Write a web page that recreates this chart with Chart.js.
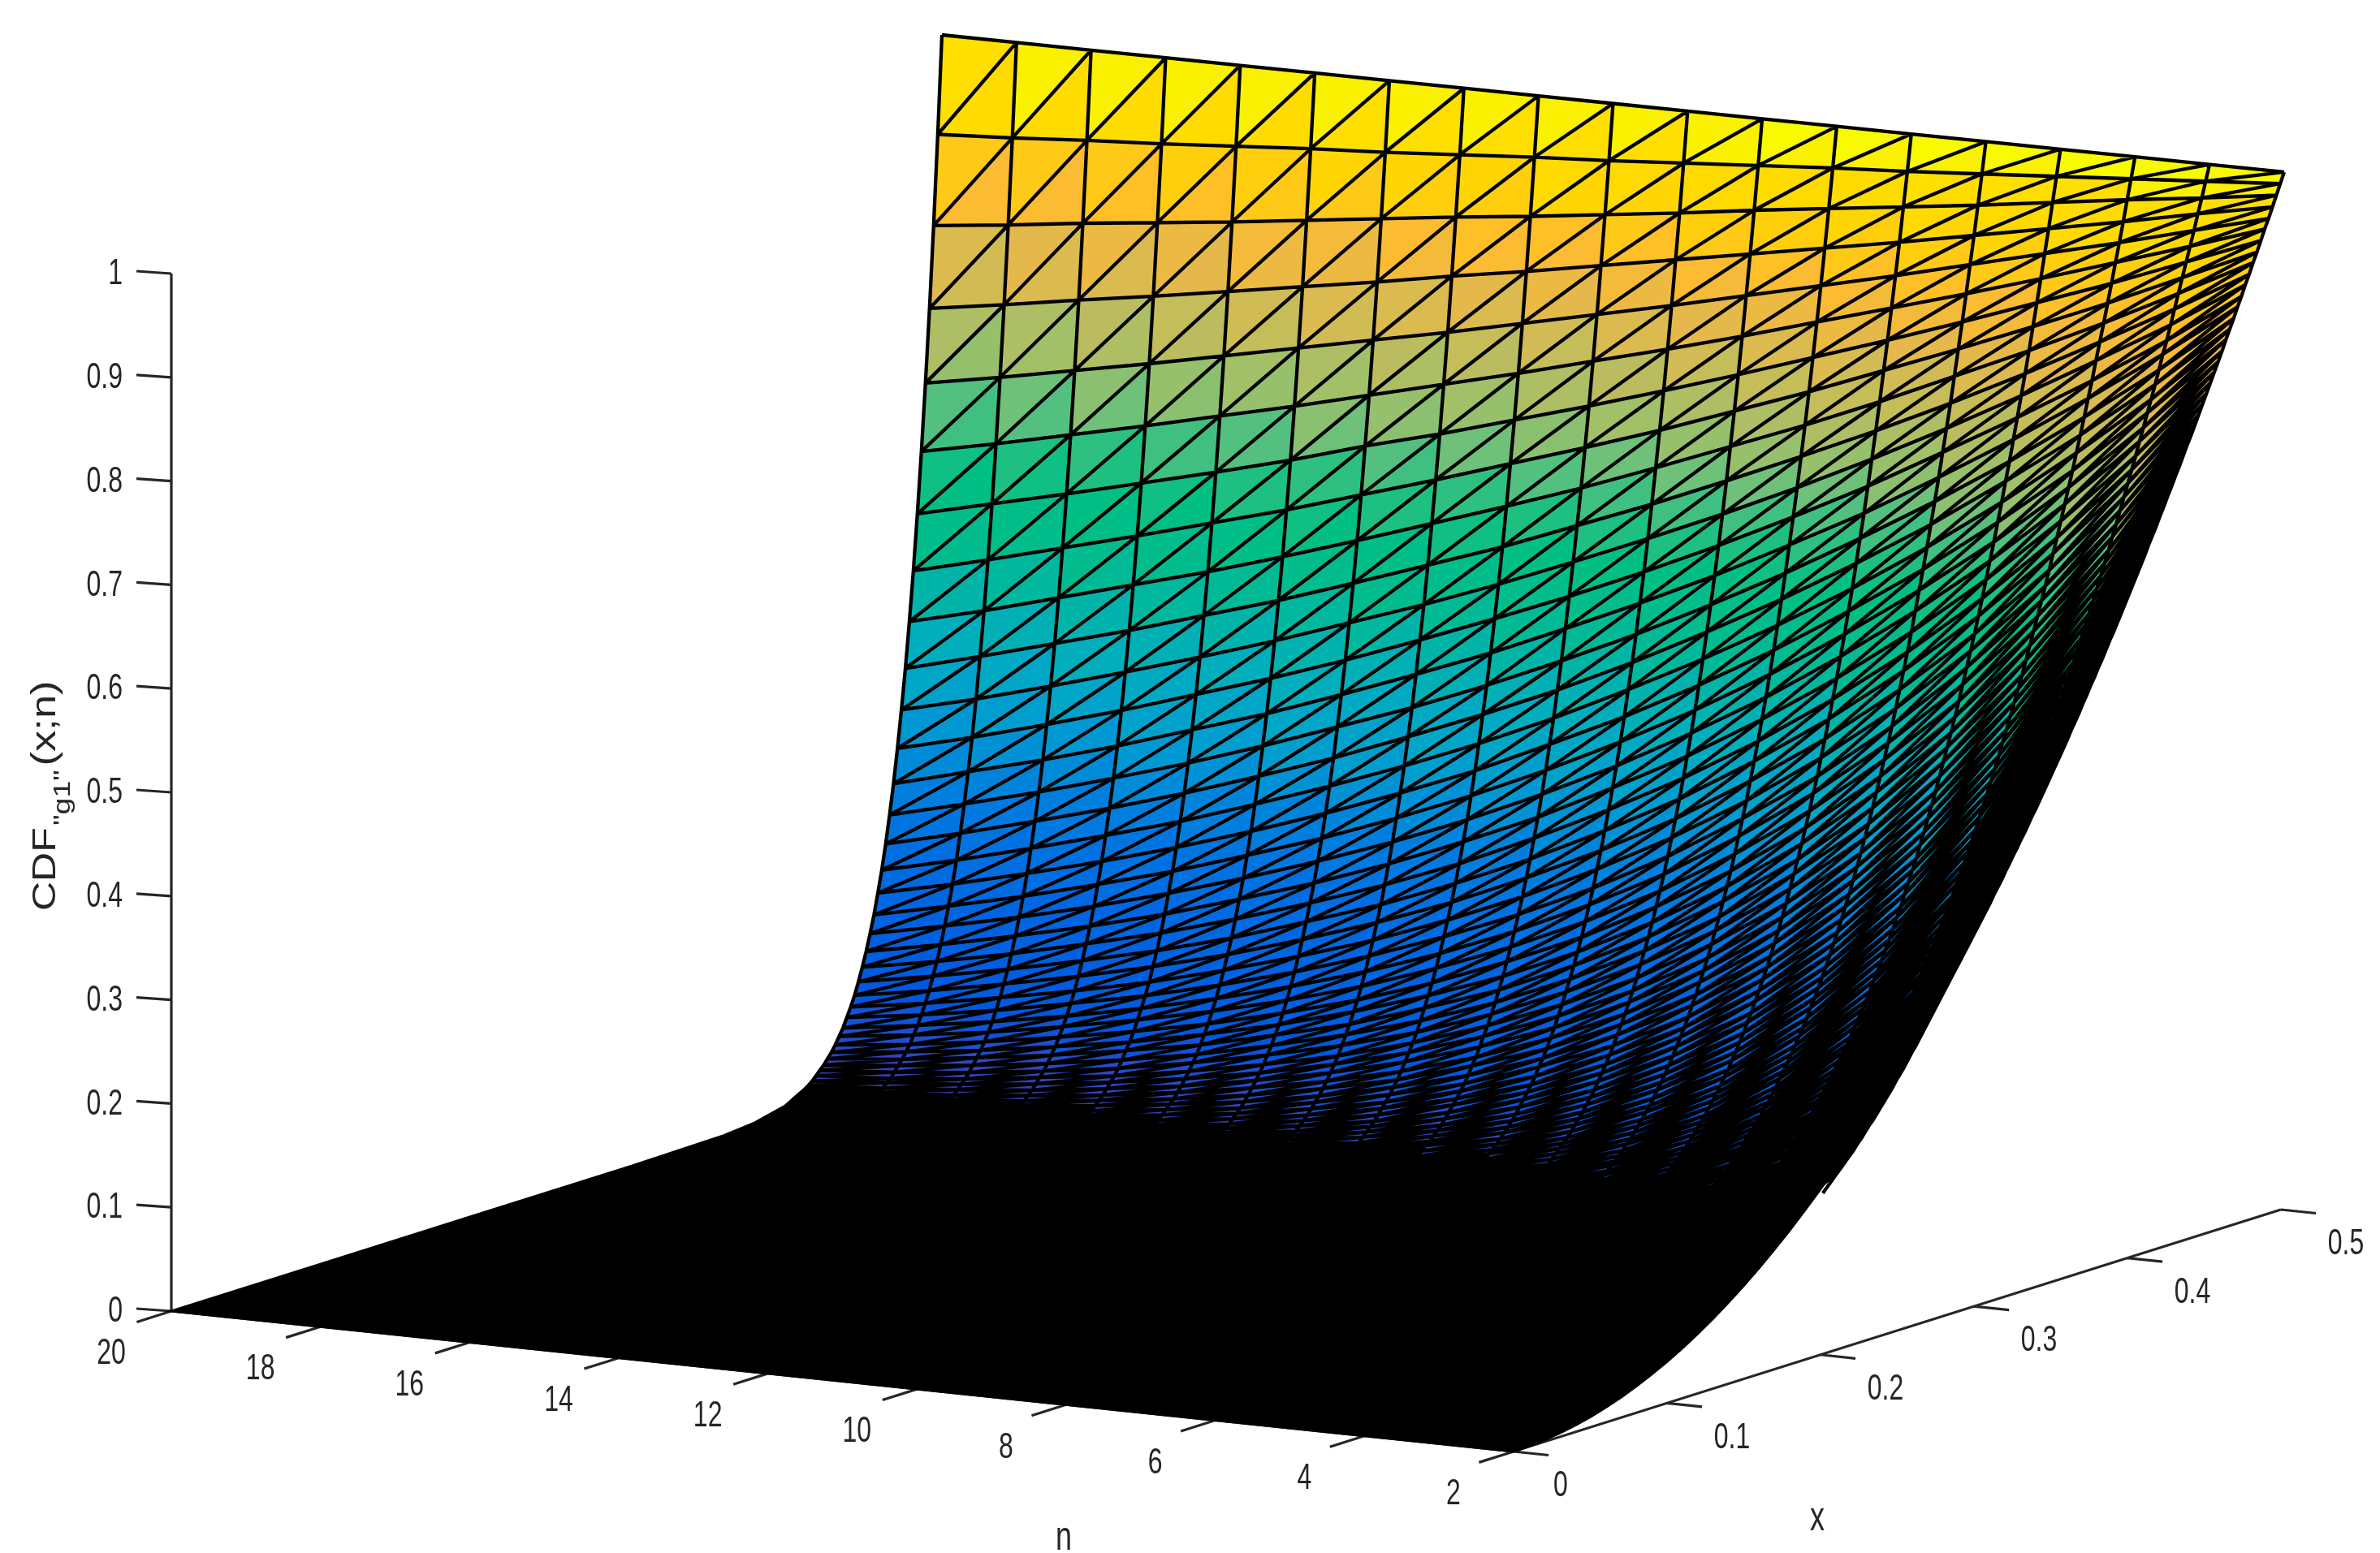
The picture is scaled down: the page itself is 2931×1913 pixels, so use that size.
<!DOCTYPE html>
<html>
<head>
<meta charset="utf-8">
<title>CDF surface</title>
<script src="https://cdn.jsdelivr.net/npm/chart.js@4/dist/chart.umd.min.js"></script>
<style>
  html, body { margin: 0; padding: 0; background: #fff; }
  canvas { display: block; }
</style>
</head>
<body>
<canvas id="surfaceChart" width="2931" height="1913"></canvas>
<script>
// Tick labels
const zTicks = [0, 0.1, 0.2, 0.3, 0.4, 0.5, 0.6, 0.7, 0.8, 0.9, 1];
const nTicks = [20, 18, 16, 14, 12, 10, 8, 6, 4, 2];
const xTicks = [0, 0.1, 0.2, 0.3, 0.4, 0.5];

// Mesh columns, left to right on the picture
const nValues = [20, 19, 18, 17, 16, 15, 14, 13, 12, 11, 10, 9, 8, 7, 6, 5, 4, 3, 2];

// Mesh rows, back to front. Below these the mesh lines overlap into solid black
const xRows = [
  0.5, 0.4975, 0.495, 0.4925, 0.49, 0.4875, 0.485, 0.4825, 0.48, 0.4775,
  0.475, 0.4725, 0.47, 0.4675, 0.465, 0.4625, 0.46, 0.4575, 0.455, 0.4525,
  0.45, 0.4475, 0.445, 0.4425, 0.44, 0.4375, 0.435, 0.4325, 0.43, 0.4275,
  0.425, 0.4225, 0.42, 0.4175, 0.415, 0.4125, 0.41, 0.4075, 0.405, 0.4025,
  0.4, 0.3975, 0.395, 0.3925, 0.39, 0.3875, 0.385, 0.3825, 0.38, 0.3775,
  0.375, 0.3725, 0.37, 0.3675, 0.365, 0.3625, 0.36, 0.3575, 0.355, 0.3525,
  0.35, 0.3475, 0.345, 0.3425, 0.34, 0.3375, 0.335, 0.3325, 0.33, 0.3275,
  0.325, 0.3225, 0.32, 0.3175, 0.315, 0.3125, 0.31, 0.3075, 0.305, 0.3025,
  0.3, 0.2975, 0.295, 0.2925, 0.29, 0.2875, 0.285, 0.2825, 0.28, 0.2775,
  0.275, 0.2725, 0.27, 0.2675, 0.265, 0.2625, 0.26, 0.2575, 0.255, 0.2525, 0.25
];

// Surface height for each n, one value per row of xRows
const zN20 = [1,.905,.818,.739,.668,.603,.544,.490,.442,.398,.359,.323,.290,.261,.234,.210,.189,.169,.152,.136,.122,.109,.097,.087,.078,.069,.062,.055,.049,.044,.039,.035,.031,.027,.024,.021,.019,.017,.015];
const zN19 = [1,.909,.826,.750,.681,.618,.561,.508,.460,.417,.377,.341,.309,.279,.252,.227,.205,.185,.167,.150,.135,.122,.109,.098,.088,.079,.071,.063,.057,.051,.046,.041,.036,.033,.029,.026,.023,.021,.018,.016];
const zN18 = [1,.914,.835,.762,.695,.634,.578,.527,.480,.437,.397,.361,.328,.298,.271,.246,.223,.202,.183,.166,.150,.136,.123,.111,.100,.090,.081,.073,.066,.060,.054,.048,.043,.039,.035,.031,.028,.025,.023,.020,.018];
const zN17 = [1,.918,.843,.773,.709,.650,.596,.546,.500,.457,.418,.382,.349,.319,.291,.266,.242,.221,.201,.183,.167,.152,.138,.125,.114,.103,.094,.085,.077,.070,.063,.057,.052,.047,.042,.038,.034,.031,.028,.025,.023,.020];
const zN16 = [1,.923,.851,.785,.724,.667,.614,.566,.520,.479,.440,.405,.372,.341,.313,.287,.263,.241,.221,.202,.185,.169,.155,.141,.129,.118,.108,.098,.089,.082,.074,.067,.061,.056,.051,.046,.042,.038,.034,.031,.028,.026,.023,.021];
const zN15 = [1,.928,.860,.797,.739,.684,.633,.586,.542,.501,.463,.428,.395,.365,.337,.311,.286,.264,.243,.224,.206,.189,.174,.160,.147,.135,.124,.113,.104,.095,.087,.080,.073,.067,.061,.056,.051,.047,.043,.039,.035,.032,.029,.026,.024,.022];
const zN14 = [1,.932,.869,.809,.754,.702,.654,.608,.565,.525,.488,.453,.421,.391,.362,.336,.311,.288,.267,.247,.229,.212,.196,.181,.167,.154,.142,.131,.121,.112,.103,.095,.087,.080,.074,.068,.062,.057,.052,.048,.044,.040,.037,.034,.031,.028,.026,.023];
const zN13 = [1,.937,.878,.822,.769,.720,.673,.630,.589,.550,.513,.480,.448,.417,.390,.363,.338,.315,.293,.273,.254,.236,.220,.204,.190,.176,.163,.151,.141,.130,.121,.112,.103,.096,.089,.082,.076,.070,.065,.060,.055,.051,.047,.043,.040,.037,.034,.031,.028,.026,.024];
const zN12 = [1,.942,.886,.834,.785,.738,.694,.653,.613,.575,.540,.508,.476,.446,.419,.392,.367,.344,.322,.302,.282,.264,.247,.231,.216,.201,.188,.175,.164,.153,.142,.132,.123,.115,.107,.099,.092,.086,.080,.074,.069,.064,.059,.055,.051,.047,.043,.040,.037,.034,.032,.029,.027];
const zN11 = [1,.946,.895,.847,.801,.757,.715,.676,.638,.603,.569,.537,.507,.477,.450,.424,.400,.376,.354,.333,.314,.295,.278,.261,.245,.230,.216,.203,.190,.178,.167,.157,.147,.138,.129,.120,.113,.105,.098,.092,.086,.081,.075,.070,.065,.061,.057,.053,.050,.046,.042,.040,.037,.034,.032,.029];
const zN10 = [1,.951,.904,.860,.817,.776,.737,.700,.665,.631,.599,.568,.539,.510,.484,.459,.434,.411,.389,.369,.349,.330,.312,.295,.278,.263,.248,.234,.221,.209,.197,.186,.175,.165,.155,.146,.137,.129,.122,.114,.107,.101,.095,.089,.083,.078,.073,.069,.064,.060,.056,.053,.049,.046,.043,.040,.037,.035,.033,.030];
const zN9 = [1,.956,.914,.873,.834,.796,.760,.726,.693,.661,.630,.601,.573,.546,.521,.496,.472,.449,.428,.407,.387,.368,.350,.333,.316,.300,.285,.271,.257,.244,.232,.220,.208,.197,.187,.177,.168,.159,.150,.142,.134,.127,.120,.113,.107,.101,.095,.090,.085,.080,.075,.071,.067,.063,.059,.055,.052,.049,.046,.043,.040,.038,.036,.033];
const zN8 = [1,.961,.923,.886,.851,.817,.784,.752,.721,.692,.663,.636,.610,.584,.560,.536,.513,.491,.470,.450,.430,.412,.394,.376,.360,.344,.328,.313,.299,.286,.272,.260,.248,.236,.225,.215,.204,.195,.185,.176,.168,.160,.152,.144,.137,.130,.124,.117,.111,.106,.100,.095,.090,.085,.081,.076,.072,.068,.065,.061,.058,.054,.051,.048,.046,.043,.041,.038,.036];
const zN7 = [1,.965,.932,.899,.868,.838,.808,.780,.751,.724,.698,.673,.648,.625,.602,.579,.558,.537,.517,.497,.478,.460,.442,.425,.408,.393,.377,.362,.348,.334,.321,.308,.295,.283,.271,.260,.249,.239,.229,.219,.210,.200,.192,.183,.175,.167,.160,.152,.146,.139,.133,.127,.121,.115,.110,.105,.100,.095,.090,.086,.082,.078,.074,.070,.067,.064,.060,.057,.054,.052,.049,.046,.044,.042,.039];
const zN6 = [1,.970,.941,.913,.886,.859,.833,.808,.783,.758,.735,.713,.690,.668,.647,.626,.606,.587,.568,.549,.531,.514,.497,.480,.464,.449,.434,.419,.405,.391,.377,.364,.351,.339,.327,.315,.304,.293,.282,.272,.262,.252,.243,.234,.225,.217,.208,.200,.193,.185,.178,.171,.164,.158,.151,.145,.139,.134,.128,.123,.118,.113,.108,.103,.099,.095,.090,.086,.083,.079,.075,.072,.069,.066,.063,.060,.057,.054,.052,.049,.047,.044];
const zN5 = [1,.975,.951,.927,.904,.881,.859,.837,.815,.794,.774,.754,.734,.714,.696,.677,.659,.641,.624,.607,.590,.574,.558,.543,.528,.513,.498,.484,.470,.457,.444,.431,.418,.406,.394,.382,.371,.359,.349,.338,.328,.317,.308,.298,.289,.280,.271,.262,.254,.245,.237,.230,.222,.215,.207,.200,.194,.187,.180,.174,.168,.162,.156,.151,.145,.140,.135,.130,.125,.121,.116,.112,.107,.103,.099,.095,.092,.088,.084,.081,.078,.075,.072,.069,.066,.063,.060,.058,.055,.053,.050];
const zN4 = [1,.980,.961,.941,.922,.904,.885,.867,.849,.832,.815,.797,.781,.764,.748,.732,.716,.701,.686,.671,.656,.642,.627,.613,.600,.586,.573,.560,.547,.534,.522,.510,.498,.486,.475,.463,.452,.441,.430,.420,.410,.399,.389,.380,.370,.361,.352,.342,.334,.325,.316,.308,.300,.292,.284,.276,.269,.261,.254,.247,.240,.233,.227,.220,.214,.208,.202,.196,.190,.184,.179,.173,.168,.163,.158,.153,.148,.143,.138,.134,.130,.125,.121,.117,.113,.109,.106,.102,.098,.095,.092,.088,.085,.082,.079,.076,.073,.070,.068,.065,.063];
const zN3 = [1,.985,.970,.956,.941,.927,.913,.899,.885,.871,.857,.843,.831,.817,.804,.791,.779,.766,.754,.741,.729,.717,.705,.693,.681,.670,.658,.647,.636,.625,.614,.603,.593,.582,.572,.561,.551,.541,.531,.522,.512,.502,.493,.484,.475,.466,.457,.448,.439,.430,.422,.413,.405,.397,.389,.381,.373,.366,.358,.350,.343,.336,.328,.321,.314,.308,.301,.294,.287,.281,.275,.268,.262,.256,.250,.244,.238,.233,.227,.221,.216,.211,.205,.200,.195,.190,.185,.180,.176,.171,.166,.162,.157,.153,.149,.145,.141,.137,.133,.129,.125];
const zN2 = [1,.990,.980,.970,.960,.951,.941,.931,.922,.912,.903,.893,.884,.874,.865,.856,.846,.837,.828,.819,.810,.801,.792,.783,.774,.766,.757,.748,.740,.731,.723,.714,.706,.697,.689,.681,.672,.664,.656,.648,.640,.632,.624,.616,.608,.601,.593,.585,.578,.570,.563,.555,.548,.540,.533,.526,.518,.511,.504,.497,.490,.483,.476,.469,.462,.456,.449,.442,.436,.429,.423,.416,.410,.403,.397,.391,.384,.378,.372,.366,.360,.354,.348,.342,.336,.331,.325,.319,.314,.308,.303,.297,.292,.286,.281,.276,.270,.265,.260,.255,.250];
const zColumns = [zN20, zN19, zN18, zN17, zN16, zN15, zN14, zN13, zN12, zN11, zN10, zN9, zN8, zN7, zN6, zN5, zN4, zN3, zN2];

// Outer edges of the black part, below the last mesh rows
const xTailRight = [0.24, 0.23, 0.22, 0.21, 0.2, 0.19, 0.18, 0.17, 0.16, 0.15, 0.14, 0.13, 0.12, 0.11, 0.1, 0.09, 0.08, 0.07, 0.06, 0.05, 0.04, 0.03, 0.02, 0.01, 0];
const zTailRight = [0.2304, 0.2116, 0.1936, 0.1764, 0.16, 0.1444, 0.1296, 0.1156, 0.1024, 0.09, 0.0784, 0.0676, 0.0576, 0.0484, 0.04, 0.0324, 0.0256, 0.0196, 0.0144, 0.01, 0.0064, 0.0036, 0.0016, 0.0004, 0];
const xTailLeft = [0.4, 0.38, 0.36, 0.3, 0.2, 0.1, 0];
const zTailLeft = [0.0115, 0.0042, 0.0014, 0.0001, 0, 0, 0];

const colorLevels = [0, 0.03, 0.06, 0.1, 0.2, 0.28, 0.36, 0.42, 0.47, 0.52, 0.57, 0.62, 0.65, 0.68, 0.71, 0.74, 0.79, 0.8, 0.86, 0.88, 0.92, 0.97, 0.98, 1];
const colorStops = ['#3830a0', '#3a38b0', '#2a4ac8', '#0058e0', '#0068e0', '#007ae0', '#009cd0', '#00acc0', '#00b4aa', '#00bc90', '#00bf84', '#30c080', '#55c080', '#8cc070', '#a0c068', '#b8bc60', '#dcbb50', '#e3b84d', '#ffbb2e', '#ffc81a', '#ffd800', '#ffe000', '#f8fa00', '#f8fc00'];
const colorBins = 64;

// the last few rows of every column read as black on the original
const rowTrim = 4;

const edgeColor = '#000000';
const axisColor = '#262626';

// view of the box, in canvas pixels
function project(n, x, z) {
    return {
        x: 211 + (20 - n) * 91.83 + x * 1890 + z * x * 8,
        y: 1615 + (20 - n) * 9.61 - x * 596 - z * 1278 + ((n - 2) / 18) * z * x * 8
    };
}

function binColor(bin) {
    const level = (bin + 0.5) / colorBins;
    let i = 0;
    while (i < colorLevels.length - 2 && level > colorLevels[i + 1]) i++;
    const f = (level - colorLevels[i]) / (colorLevels[i + 1] - colorLevels[i]);
    const a = parseInt(colorStops[i].slice(1), 16);
    const b = parseInt(colorStops[i + 1].slice(1), 16);
    const mix = shift => Math.round(((a >> shift) & 255) * (1 - f) + ((b >> shift) & 255) * f);
    return `rgb(${mix(16)}, ${mix(8)}, ${mix(0)})`;
}

const gap = { x: NaN, y: NaN };
const meshPoint = (c, i) => project(nValues[c], xRows[i], zColumns[c][i]);
const cellRows = c => Math.min(zColumns[c].length, zColumns[c + 1].length) - rowTrim;

// Filled triangles, grouped by color
const trianglesByBin = Array.from({ length: colorBins }, () => []);
function addTriangle(corners) {
    const meanZ = corners.reduce((sum, [c, i]) => sum + zColumns[c][i], 0) / 3;
    const bin = Math.min(colorBins - 1, Math.floor(meanZ * colorBins));
    const pts = corners.map(([c, i]) => meshPoint(c, i));
    if (trianglesByBin[bin].length) trianglesByBin[bin].push(gap);
    trianglesByBin[bin].push(pts[0], pts[1], pts[2], pts[0]);
}

// Mesh lines
const wirePoints = [];
function addWire(pts) {
    if (wirePoints.length) wirePoints.push(gap);
    wirePoints.push(...pts);
}

for (let c = 0; c < nValues.length - 1; c++) {
    const rows = cellRows(c);
    for (let i = 0; i < rows - 1; i++) {
        addTriangle([[c, i], [c + 1, i], [c, i + 1]]);
        addTriangle([[c + 1, i], [c, i + 1], [c + 1, i + 1]]);
        addWire([meshPoint(c, i + 1), meshPoint(c + 1, i)]);
    }
    for (let i = 0; i < rows; i++) {
        addWire([meshPoint(c, i), meshPoint(c + 1, i)]);
    }
}
zColumns.forEach((col, c) => addWire(col.map((z, i) => meshPoint(c, i))));

// Solid black region under the mesh
const floorPoints = [];
for (let c = 0; c < nValues.length - 1; c++) {
    const last = cellRows(c) - 1;
    floorPoints.push(meshPoint(c, last), meshPoint(c + 1, last));
}
floorPoints.push(meshPoint(nValues.length - 1, xRows.length - 1));
xTailRight.forEach((x, i) => floorPoints.push(project(2, x, zTailRight[i])));
for (let i = xTailLeft.length - 1; i >= 0; i--) {
    floorPoints.push(project(20, xTailLeft[i], zTailLeft[i]));
}
floorPoints.push(floorPoints[0]);

// Box axes and tick marks
const axisPoints = [
    project(20, 0, 0), project(20, 0, 1), gap,
    project(20, 0, 0), project(2, 0, 0), project(2, 0.5, 0), gap
];
zTicks.forEach(z => {
    const p = project(20, 0, z);
    axisPoints.push(p, { x: p.x - 43, y: p.y - 3 }, gap);
});
nTicks.forEach(n => axisPoints.push(project(n, 0, 0), project(n, -0.0225, 0), gap));
xTicks.forEach(x => axisPoints.push(project(2, x, 0), project(1.53, x, 0), gap));
axisPoints.pop();

const lineStyle = { showLine: true, pointRadius: 0, pointHoverRadius: 0, fill: false };
const datasets = [
    { ...lineStyle, label: 'mesh', data: wirePoints, borderColor: edgeColor, borderWidth: 4.3, order: 1 },
    ...trianglesByBin.map((pts, bin) => ({
        ...lineStyle,
        label: 'bin ' + bin,
        data: pts,
        fill: 'shape',
        backgroundColor: binColor(bin),
        borderColor: binColor(bin),
        borderWidth: 0,
        order: 2
    })),
    { ...lineStyle, label: 'floor', data: floorPoints, fill: 'shape', backgroundColor: edgeColor, borderColor: edgeColor, borderWidth: 3, order: 3 },
    { ...lineStyle, label: 'axes', data: axisPoints, borderColor: axisColor, borderWidth: 3.2, order: 4 }
];

// Text is a little taller than it is wide on the original
function drawText(ctx, text, px, py, align, size) {
    ctx.save();
    ctx.translate(px, py);
    ctx.scale(1, 1.38);
    ctx.font = size + 'px "Liberation Sans"';
    ctx.textAlign = align;
    ctx.textBaseline = 'middle';
    ctx.fillStyle = axisColor;
    ctx.fillText(text, 0, 0);
    ctx.restore();
}

const axisText = {
    id: 'axisText',
    afterDraw(chart) {
        const ctx = chart.ctx;
        const sx = chart.scales.x;
        const sy = chart.scales.y;
        const at = p => ({ x: sx.getPixelForValue(p.x), y: sy.getPixelForValue(p.y) });

        zTicks.forEach(z => {
            const p = at(project(20, 0, z));
            drawText(ctx, String(z), p.x - 60, p.y + 1, 'right', 32);
        });
        nTicks.forEach(n => {
            const p = at(project(n, 0, 0));
            drawText(ctx, String(n), p.x - 74, p.y + 53, 'center', 32);
        });
        xTicks.forEach(x => {
            const p = at(project(2, x, 0));
            drawText(ctx, String(x), p.x + (x === 0 ? 58 : 80), p.y + 43, 'center', 32);
        });

        const nTitle = at({ x: 1310, y: 1895 });
        drawText(ctx, 'n', nTitle.x, nTitle.y, 'center', 36);
        const xTitle = at({ x: 2238, y: 1871 });
        drawText(ctx, 'x', xTitle.x, xTitle.y, 'center', 36);

        // rotated z label with its subscript
        ctx.save();
        const base = at({ x: 68, y: 1122 });
        ctx.translate(base.x, base.y);
        ctx.rotate(-Math.PI / 2);
        ctx.scale(1.25, 1);
        ctx.fillStyle = axisColor;
        ctx.textAlign = 'left';
        ctx.textBaseline = 'alphabetic';
        ctx.font = '40px "Liberation Sans"';
        ctx.fillText('CDF', 0, 0);
        let run = ctx.measureText('CDF').width + 2;
        ctx.font = '30px "Liberation Sans"';
        ctx.fillText('"g1"', run, 18);
        run += ctx.measureText('"g1"').width + 4;
        ctx.font = '42px "Liberation Sans"';
        ctx.fillText('(x;n)', run, 0);
        ctx.restore();
    }
};

const surfaceCtx = document.getElementById('surfaceChart').getContext('2d');
const surfaceChart = new Chart(surfaceCtx, {
    type: 'scatter',
    data: { datasets: datasets },
    plugins: [axisText],
    options: {
        responsive: false,
        animation: false,
        events: [],
        layout: { padding: 0 },
        scales: {
            x: { type: 'linear', min: 0, max: 2931, display: false },
            y: { type: 'linear', min: 0, max: 1913, reverse: true, display: false }
        },
        plugins: {
            legend: { display: false },
            tooltip: { enabled: false }
        }
    }
});
</script>
</body>
</html>
